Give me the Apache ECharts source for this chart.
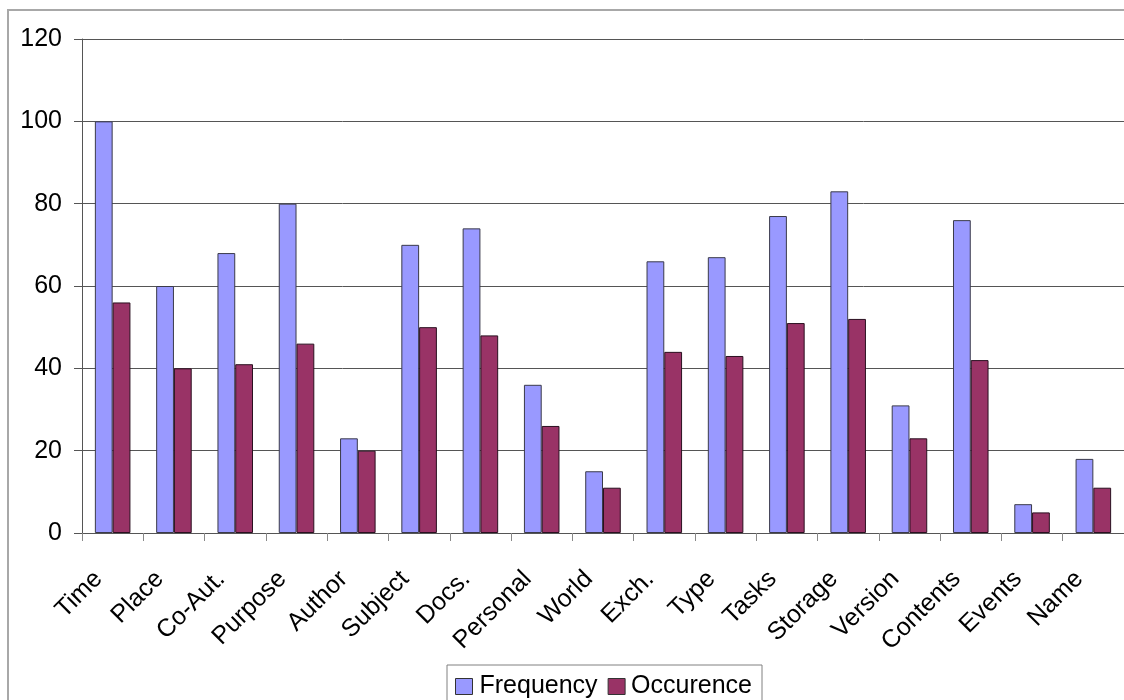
<!DOCTYPE html>
<html>
<head>
<meta charset="utf-8">
<script src="https://cdn.jsdelivr.net/npm/echarts@6/dist/echarts.min.js"></script>
<style>
  html, body { margin: 0; padding: 0; background: #fff; }
  #chart { width: 1124px; height: 700px; }
</style>
</head>
<body>
<div id="chart"></div>
<script>
// Categories along the x axis
const categories = ['Time', 'Place', 'Co-Aut.', 'Purpose', 'Author', 'Subject', 'Docs.', 'Personal',
  'World', 'Exch.', 'Type', 'Tasks', 'Storage', 'Version', 'Contents', 'Events', 'Name'];

// Series values
const frequency = [100, 60, 68, 80, 23, 70, 74, 36, 15, 66, 67, 77, 83, 31, 76, 7, 18];
const occurence = [56, 40, 41, 46, 20, 50, 48, 26, 11, 44, 43, 51, 52, 23, 42, 5, 11];

// Y axis scale
const yMin = 0;
const yMax = 120;
const yStep = 20;

const chart = echarts.init(document.getElementById('chart'), null, { renderer: 'canvas' });

const font = 'Liberation Sans, Arial, sans-serif';
const legendText = { fontFamily: font, fontSize: 25, color: '#000' };

chart.setOption({
  animation: false,
  backgroundColor: '#fff',
  textStyle: { fontFamily: font },
  graphic: [{
    type: 'rect',
    shape: { x: 8, y: 10, width: 1300, height: 900 },
    style: { fill: 'none', stroke: '#a8a8a8', lineWidth: 2 },
    silent: true
  }],
  grid: { left: 82, top: 39, width: 1044, height: 494, containLabel: false },
  legend: {
    left: 447,
    top: 665,
    padding: [9, 10, 12, 8],
    itemWidth: 17,
    itemHeight: 16,
    itemGap: 10,
    borderColor: '#808080',
    borderWidth: 1,
    icon: 'rect',
    textStyle: legendText,
    itemStyle: { borderColor: '#333', borderWidth: 1 },
    data: [
      { name: 'Frequency', textStyle: Object.assign({ padding: [0, 0, 0, 2] }, legendText) },
      { name: 'Occurence', textStyle: Object.assign({ padding: [0, 0, 0, 1] }, legendText) }
    ]
  },
  xAxis: {
    type: 'category',
    data: categories,
    boundaryGap: true,
    axisLine: { lineStyle: { color: '#555', width: 1 } },
    axisTick: { show: true, length: 8, lineStyle: { color: '#888', width: 1 } },
    axisLabel: {
      rotate: 45,
      interval: 0,
      margin: 28,
      padding: [0, 20, 0, 0],
      fontFamily: font,
      fontSize: 25,
      color: '#000'
    }
  },
  yAxis: {
    type: 'value',
    min: yMin,
    max: yMax,
    interval: yStep,
    axisLine: { show: true, lineStyle: { color: '#555', width: 1 } },
    axisTick: { show: true, length: 8, lineStyle: { color: '#555' } },
    axisLabel: { margin: 20, fontFamily: font, fontSize: 25, color: '#000' },
    splitLine: { show: true, lineStyle: { color: '#555', width: 1 } }
  },
  series: [
    {
      name: 'Frequency',
      type: 'bar',
      data: frequency,
      barGap: '0%',
      barCategoryGap: '42%',
      itemStyle: { color: '#9999FF', borderColor: '#3a3a4a', borderWidth: 1 }
    },
    {
      name: 'Occurence',
      type: 'bar',
      data: occurence,
      barGap: '0%',
      barCategoryGap: '42%',
      itemStyle: { color: '#993366', borderColor: '#2a1020', borderWidth: 1 }
    }
  ]
});
</script>
</body>
</html>
